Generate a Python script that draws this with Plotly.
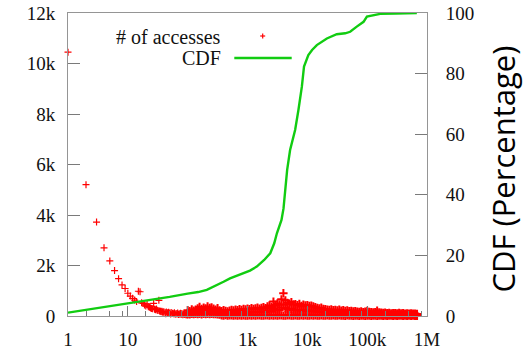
import plotly.graph_objects as go

# ---- number of accesses per object (left axis) ----
head_x = [1, 2, 3, 4, 5, 6, 7, 8, 9, 10, 11, 12, 13, 14, 15, 16, 17, 18, 19, 20,
          21, 22, 23, 24, 25, 26, 27, 28, 29, 30, 31, 32, 33, 34, 35, 36, 37, 38, 39, 40,
          42, 44, 46, 48, 50, 53, 56, 60, 64, 68, 72, 76, 80, 85, 90, 95,
          43, 47, 52, 58, 62, 66, 70, 74, 78, 83, 88, 93, 98]
head_y = [10450, 5200, 3720, 2700, 2180, 1800, 1480, 1230, 1090, 900, 790, 700, 630, 570, 980, 960, 520, 500, 440, 400,
          480, 370, 350, 320, 300, 290, 500, 270, 250, 280, 230, 220, 620, 200, 190, 170, 190, 160, 150, 170,
          140, 160, 130, 150, 120, 140, 110, 130, 100, 120, 90, 110, 100, 80, 100, 70,
          90, 100, 80, 90, 70, 80, 60, 70, 60, 50, 60, 50, 40]

band_x = [100, 108, 117, 126, 136, 147, 158, 171, 185, 200, 215, 233, 251, 271, 293, 316, 341, 369, 398, 430,
          464, 501, 541, 584, 631, 681, 736, 794, 858, 926,
          1000, 1080, 1166, 1259, 1359, 1468, 1585, 1711, 1848, 1995, 2154, 2326, 2512, 2712, 2929,
          3162, 3415, 3687, 3981, 4299, 4642, 5012, 5412, 5843, 6310, 6813, 7356, 7943, 8577, 9261,
          10000, 10800, 11660, 12590, 13590, 14680, 15850, 17110, 18480, 19950, 21540, 23260, 25120, 27120, 29290,
          31620, 34150, 36870, 39810, 42990, 46420, 50120, 54120, 58430, 63100, 68130, 73560, 79430, 85770, 92610,
          100000, 108000, 116600, 125900, 135900, 146800, 158500, 171100, 184800, 199500, 215400, 232600, 251200,
          271200, 292900, 316200, 341500, 368700, 398100, 429900, 464200, 501200, 541200, 584300, 631000, 681300]
band_top = [230, 190, 260, 210, 250, 300, 360, 280, 330, 300,
            380, 320, 340, 290, 250, 310,
            220, 190, 230, 200, 180, 210, 240, 220,
            250, 230, 270, 240, 280, 260,
            290, 270, 310, 280, 300, 330, 290, 320, 350, 310,
            380, 420, 360, 570, 440,
            500, 460, 660, 900, 620, 520, 480, 550, 460,
            470, 430, 480, 400, 450, 420,
            430, 400, 410, 380, 350, 320, 300, 330, 280, 270,
            250, 240, 260, 230, 240, 220, 250, 210, 230, 200, 220, 190, 200, 180, 190,
            170, 160, 180, 150, 170,
            200, 160, 150, 140, 150,
            210,
            140, 130, 120, 130,
            110, 120, 100, 110, 107, 100, 120, 100, 110, 95, 100, 90, 100, 90, 95, 80]
band_mid = [120, 100, 140, 110, 130, 160, 190, 150, 170, 160,
            200, 170, 180, 150, 130, 160,
            110, 100, 120, 100, 90, 110, 120, 110,
            130, 120, 140, 120, 150, 130,
            150, 140, 160, 150, 160, 170, 150, 170, 180, 160,
            200, 220, 190, 290, 230,
            260, 240, 340, 450, 320, 270, 250, 290, 240,
            240, 220, 250, 210, 230, 220,
            220, 210, 210, 200, 180, 170, 160, 170, 150, 140,
            130, 120, 140, 120, 120, 110, 130, 110, 120, 100, 110, 100, 100, 90, 100,
            90, 80, 90, 80, 90,
            100, 80, 80, 70, 80,
            110,
            70, 70, 60, 70,
            60, 60, 50, 60, 55, 50, 60, 50, 55, 50, 50, 45, 50, 45, 50, 40]
band_low = [80, 70, 90, 75, 85, 80, 90, 70, 85, 80,
            90, 80, 85, 75, 80, 70,
            60, 30, 20, 35, 15, 25, 30, 20,
            25, 15, 30, 20, 25, 15,
            20, 30, 15, 25, 20, 30, 25, 15, 20, 30,
            25, 20, 30, 15, 25,
            20, 30, 25, 15, 20, 25, 30, 20, 15,
            25, 20, 15, 30, 20, 25,
            20, 15, 25, 20, 30, 15, 20, 25, 15, 20,
            25, 15, 20, 30, 15, 20, 25, 15, 20, 10, 25, 15, 20, 10, 15,
            20, 10, 15, 20, 10,
            15, 20, 10, 15, 20,
            10,
            15, 20, 10, 15,
            10, 15, 20, 10, 15, 10, 20, 15, 10, 15, 10, 20, 10, 15, 10, 10]

# ---- cumulative distribution (right axis, percent) ----
cdf_x = [1, 2, 5, 10, 20, 50, 100, 150, 209, 300, 398, 510, 600, 851, 1100, 1430, 1900, 2400, 2800, 3100,
         3400, 3700, 4000, 4200, 4400, 4600, 5150, 6250, 7100, 8100, 8800, 10400, 12000, 14400, 21200,
         31000, 42900, 52000, 67000, 87000, 99000, 130000, 165000, 300000, 676000]
cdf_y = [1.1, 2.0, 3.2, 4.2, 5.1, 6.3, 7.4, 7.9, 8.6, 10.0, 11.3, 12.4, 12.9, 14.1, 15.0, 16.3, 18.5, 20.7, 24.0, 27.3,
         30.0, 31.7, 35.5, 39.4, 45.4, 48.2, 54.8, 61.4, 68.0, 75.7, 82.3, 86.1, 87.8, 89.4, 91.6,
         93.0, 93.3, 93.8, 95.5, 97.1, 98.8, 99.4, 99.7, 99.8, 100.0]

x_tickvals = [1, 10, 100, 1000, 10000, 100000, 1000000]
x_ticktext = ["1", "10", "100", "1k", "10k", "100k", "1M"]
x_minor = [2, 5, 8, 20, 50, 80, 200, 500, 800, 2000, 5000, 8000,
           20000, 50000, 80000, 200000, 500000, 800000]
y_tickvals = [0, 2000, 4000, 6000, 8000, 10000, 12000]
y_ticktext = ["0", "2k", "4k", "6k", "8k", "10k", "12k"]
y2_tickvals = [0, 20, 40, 60, 80, 100]

SERIF = "Liberation Serif, Tinos, Times New Roman, DejaVu Serif, serif"
AXIS_GRAY = "#959595"
TICK_GRAY = "#7a7a7a"
RED = "#ff0000"
GREEN = "#11cc11"

band_all_x = band_x + band_x + band_x
band_all_y = band_top + band_mid + band_low

fig = go.Figure()
# sparse head of the distribution
fig.add_trace(go.Scatter(
    x=head_x, y=head_y, mode="markers", name="# of accesses",
    marker=dict(symbol="cross-thin", size=5, line=dict(width=1.2, color=RED)),
    cliponaxis=False, showlegend=False,
))
# dense body of the distribution
fig.add_trace(go.Scatter(
    x=band_all_x, y=band_all_y, mode="markers", name="# of accesses",
    marker=dict(symbol="cross-thin", size=6, line=dict(width=2, color=RED)),
    cliponaxis=False, showlegend=False,
))
fig.add_trace(go.Scatter(
    x=cdf_x, y=cdf_y, mode="lines", name="CDF", yaxis="y2",
    line=dict(color=GREEN, width=2.4), showlegend=False,
))

L, R, T, B = 68, 96, 13, 40
W, H = 523, 356
pw, ph = W - L - R, H - T - B


def px_x(p):
    return (p - L) / pw


def px_y(p):
    return (H - B - p) / ph


# key: text on the left, sample on the right
annotations = [
    dict(x=px_x(223), y=px_y(36.5), xref="paper", yref="paper", text="# of accesses",
         showarrow=False, xanchor="right", yanchor="middle", font=dict(family=SERIF, size=20, color="#111")),
    dict(x=px_x(223), y=px_y(58.3), xref="paper", yref="paper", text="CDF",
         showarrow=False, xanchor="right", yanchor="middle", font=dict(family=SERIF, size=20, color="#111")),
    dict(x=px_x(503), y=px_y(168.5), xref="paper", yref="paper", text="CDF (Percentage)",
         showarrow=False, textangle=-90, xanchor="center", yanchor="middle",
         font=dict(family="Open Sans", size=31, color="#000")),
]
shapes = [
    dict(type="line", xref="paper", yref="paper", x0=px_x(260.2), x1=px_x(265.2), y0=px_y(36), y1=px_y(36),
         line=dict(color=RED, width=1.2)),
    dict(type="line", xref="paper", yref="paper", x0=px_x(262.7), x1=px_x(262.7), y0=px_y(33.5), y1=px_y(38.5),
         line=dict(color=RED, width=1.2)),
    dict(type="line", xref="paper", yref="paper", x0=px_x(234.3), x1=px_x(291.7), y0=px_y(58), y1=px_y(58),
         line=dict(color=GREEN, width=2.4)),
]

fig.update_layout(
    width=W, height=H,
    margin=dict(l=L, r=R, t=T, b=B, autoexpand=False),
    paper_bgcolor="white", plot_bgcolor="white",
    showlegend=False,
    annotations=annotations,
    shapes=shapes,
    xaxis=dict(
        type="log", range=[0, 6], automargin=False,
        tickmode="array", tickvals=x_tickvals, ticktext=x_ticktext,
        ticks="inside", ticklen=10, tickwidth=1, tickcolor=TICK_GRAY,
        minor=dict(tickmode="array", tickvals=x_minor, ticks="inside", ticklen=5,
                   tickwidth=1, tickcolor=TICK_GRAY, showgrid=False),
        showline=True, linecolor=AXIS_GRAY, linewidth=1, mirror=True,
        showgrid=False, zeroline=False,
        tickfont=dict(family=SERIF, size=19, color="#111"),
        ticklabelstandoff=6,
    ),
    yaxis=dict(
        range=[0, 12000], automargin=False,
        tickmode="array", tickvals=y_tickvals, ticktext=y_ticktext,
        ticks="inside", ticklen=12, tickwidth=1, tickcolor=TICK_GRAY,
        showline=True, linecolor=AXIS_GRAY, linewidth=1, mirror=True,
        showgrid=False, zeroline=False,
        tickfont=dict(family=SERIF, size=19, color="#111"),
        ticklabelstandoff=8,
    ),
    yaxis2=dict(
        range=[0, 100], overlaying="y", side="right", automargin=False,
        tickmode="array", tickvals=y2_tickvals,
        ticks="inside", ticklen=12, tickwidth=1, tickcolor=TICK_GRAY,
        showline=True, linecolor=AXIS_GRAY, linewidth=1,
        showgrid=False, zeroline=False,
        tickfont=dict(family=SERIF, size=19, color="#111"),
        ticklabelstandoff=14,
    ),
)

fig.write_html("out.html")
